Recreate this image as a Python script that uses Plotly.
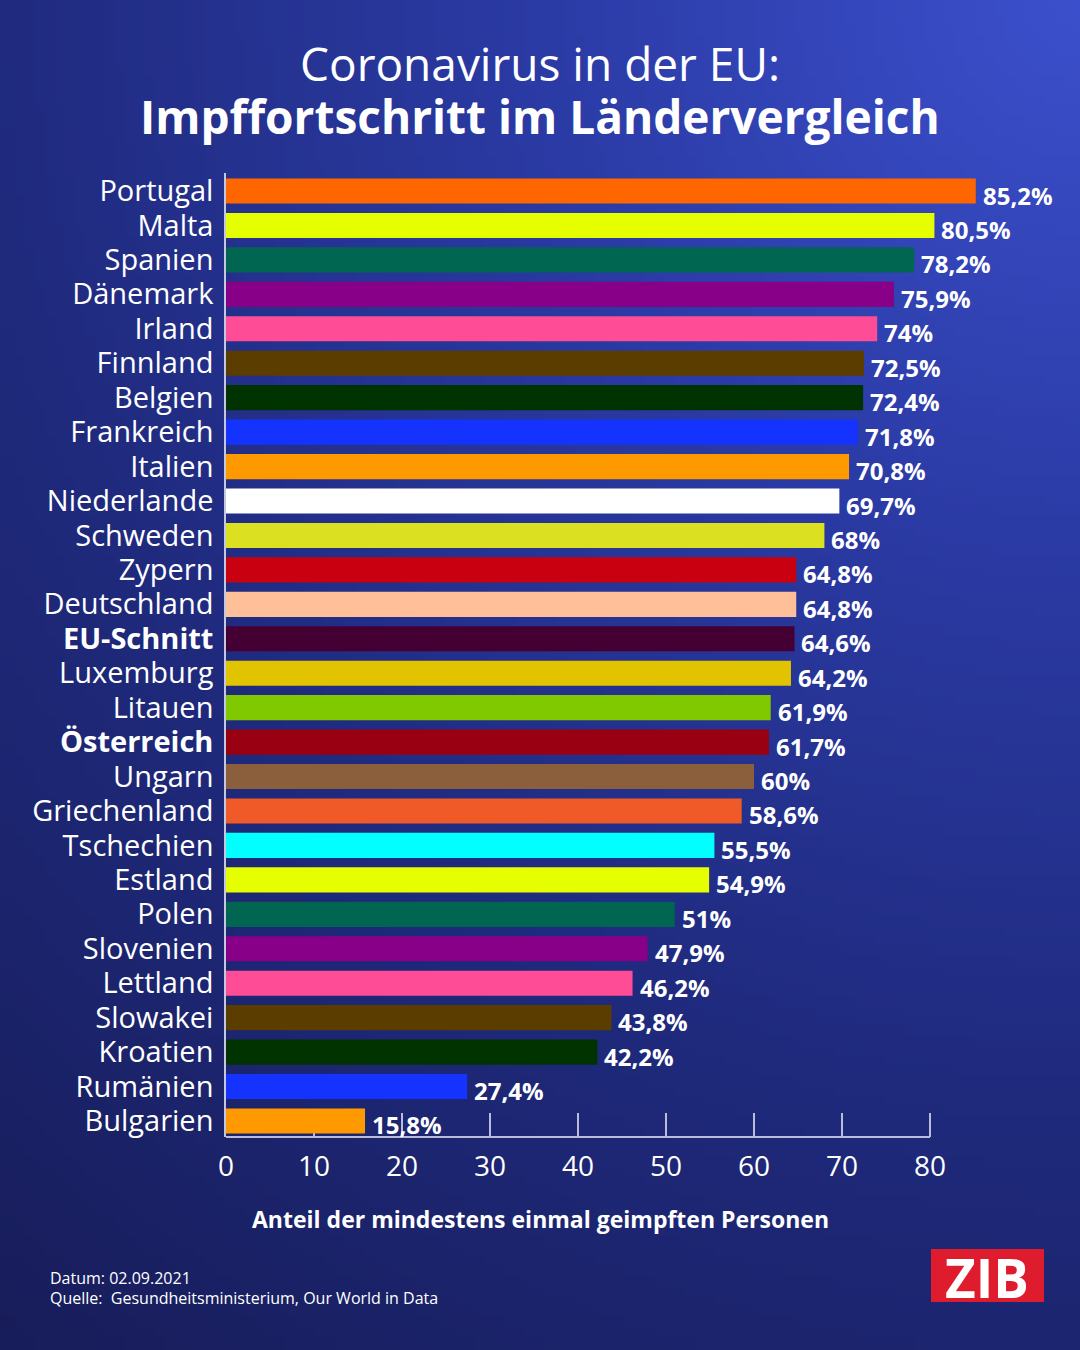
import base64
import math
import struct
import zlib

import plotly.graph_objects as go

# data
countries = ["Portugal", "Malta", "Spanien", "Dänemark", "Irland", "Finnland", "Belgien",
             "Frankreich", "Italien", "Niederlande", "Schweden", "Zypern", "Deutschland",
             "EU-Schnitt", "Luxemburg", "Litauen", "Österreich", "Ungarn", "Griechenland",
             "Tschechien", "Estland", "Polen", "Slovenien", "Lettland", "Slowakei",
             "Kroatien", "Rumänien", "Bulgarien"]
values = [85.2, 80.5, 78.2, 75.9, 74, 72.5, 72.4, 71.8, 70.8, 69.7, 68, 64.8, 64.8,
          64.6, 64.2, 61.9, 61.7, 60, 58.6, 55.5, 54.9, 51, 47.9, 46.2, 43.8, 42.2,
          27.4, 15.8]
bar_colors = ["#ff6600", "#e6ff00", "#006652", "#880088", "#ff4c97", "#5c3d00", "#003300",
              "#1433ff", "#ff9900", "#ffffff", "#dbe020", "#c8000f", "#ffbf99",
              "#440033", "#e2c300", "#80c800", "#990011", "#8b5e3c", "#f05a28",
              "#00ffff", "#e6ff00", "#006652", "#880088", "#ff4c97", "#5c3d00",
              "#003300", "#1433ff", "#ff9900"]
bold_rows = ["EU-Schnitt", "Österreich"]
x_ticks = [0, 10, 20, 30, 40, 50, 60, 70, 80]

W, H = 1080, 1350
FONT = "Open Sans"


# background gradient as small png, stretched over the page
def png_chunk(tag, data):
    return struct.pack(">I", len(data)) + tag + data + struct.pack(">I", zlib.crc32(tag + data) & 0xffffffff)


def bg_color(d):
    stops = [(0, (60, 80, 205)), (500, (44, 60, 168)), (1100, (31, 42, 125)), (1750, (23, 28, 88))]
    for (d0, c0), (d1, c1) in zip(stops, stops[1:]):
        if d <= d1:
            t = (d - d0) / (d1 - d0)
            return [int(round(a + (b - a) * t)) for a, b in zip(c0, c1)]
    return list(stops[-1][1])


def gradient_uri(w=108, h=135):
    raw = bytearray()
    for j in range(h):
        raw.append(0)
        for i in range(w):
            px = (i + 0.5) / w * W
            py = (j + 0.5) / h * H
            raw.extend(bg_color(math.hypot(W - px, py)))
    png = (b"\x89PNG\r\n\x1a\n"
           + png_chunk(b"IHDR", struct.pack(">IIBBBBB", w, h, 8, 2, 0, 0, 0))
           + png_chunk(b"IDAT", zlib.compress(bytes(raw)))
           + png_chunk(b"IEND", b""))
    return "data:image/png;base64," + base64.b64encode(png).decode()


def px_y(y):
    return 1 - y / H


ticktext = ["<b>%s</b>" % c if c in bold_rows else c for c in countries]
labels = [("%g" % v).replace(".", ",") + "%" for v in values]

fig = go.Figure()
fig.add_trace(go.Bar(
    x=values, y=countries, orientation="h",
    marker=dict(color=bar_colors, line=dict(width=0)),
    width=0.73, hoverinfo="skip",
))

y_bottom = px_y(1137)
y_top = px_y(173)

annotations = []
for c, lab, v in zip(countries, labels, values):
    annotations.append(dict(x=v, y=c, xref="x", yref="y", text="<b>%s</b>" % lab,
                            showarrow=False, xanchor="left", yanchor="middle",
                            xshift=5, yshift=-4,
                            font=dict(family=FONT, size=24, color="white")))


def page_text(text, x, y, size, xanchor="center"):
    return dict(x=x / W, y=px_y(y), xref="paper", yref="paper", text=text,
                showarrow=False, xanchor=xanchor, yanchor="middle",
                font=dict(family=FONT, size=size, color="white"))


annotations += [
    page_text("Coronavirus in der EU:", 540, 63, 46),
    page_text("<b>Impffortschritt im Ländervergleich</b>", 540, 116, 46),
    page_text("<b>Anteil der mindestens einmal geimpften Personen</b>", 540, 1219, 23),
    page_text("Datum: 02.09.2021", 48, 1278, 16, "left"),
    page_text("Quelle:  Gesundheitsministerium, Our World in Data", 48, 1298, 16, "left"),
    page_text("<b>ZIB</b>", 987, 1277, 53),
]

shapes = [
    dict(type="line", xref="x", yref="paper", x0=0, x1=80, y0=y_bottom, y1=y_bottom,
         line=dict(color="#b9bdd9", width=2)),
    dict(type="rect", xref="paper", yref="paper", x0=931 / W, x1=1044 / W,
         y0=px_y(1302), y1=px_y(1249), fillcolor="#df1b2e", line=dict(width=0), layer="below"),
]

fig.update_layout(
    width=W, height=H,
    margin=dict(l=0, r=0, t=0, b=0, autoexpand=False),
    paper_bgcolor="#1f2a7a", plot_bgcolor="rgba(0,0,0,0)",
    showlegend=False,
    annotations=annotations,
    shapes=shapes,
    images=[dict(source=gradient_uri(), xref="paper", yref="paper", x=0, y=1,
                 sizex=1, sizey=1, sizing="stretch", layer="below", xanchor="left", yanchor="top")],
    xaxis=dict(domain=[226 / W, 1062 / W], range=[0, 95], tickvals=x_ticks, automargin=False,
               ticks="inside", ticklen=24, tickwidth=1.5, tickcolor="#b9bdd9",
               showgrid=False, zeroline=False, showline=False, layer="below traces",
               tickfont=dict(family=FONT, size=28, color="white"), ticklabelstandoff=10,
               fixedrange=True),
    yaxis=dict(domain=[y_bottom, y_top], type="category", categoryorder="array",
               categoryarray=countries, range=[27.465, -0.523], automargin=False,
               tickvals=countries, ticktext=ticktext, ticks="",
               showgrid=False, zeroline=False, showline=True, linecolor="#c3c7e0", linewidth=1.5,
               tickfont=dict(family=FONT, size=29, color="white"), ticklabelstandoff=5,
               fixedrange=True),
)

fig.write_html("out.html", config={"displayModeBar": False},
               post_script="document.body.style.margin='0';")
